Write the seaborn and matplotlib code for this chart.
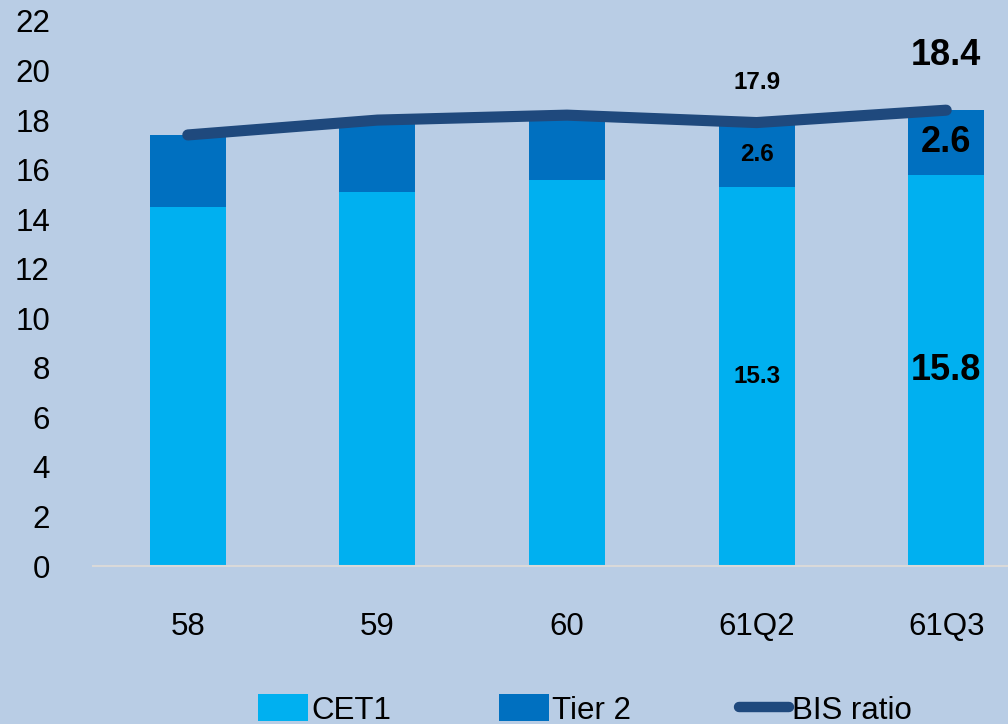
import numpy as np
import matplotlib
matplotlib.use("Agg")
import matplotlib.pyplot as plt
import seaborn as sns
from matplotlib.patches import Patch
from matplotlib.lines import Line2D

sns.set_style("white")
plt.rcParams["font.family"] = ["Liberation Sans", "DejaVu Sans"]
plt.rcParams["text.color"] = "black"

# ----------------------------------------------------------------------
# data
# ----------------------------------------------------------------------
periods = ["58", "59", "60", "61Q2", "61Q3"]
cet1 = [14.5, 15.1, 15.6, 15.3, 15.8]
tier2 = [2.9, 2.9, 2.6, 2.6, 2.6]
bis_ratio = [17.4, 18.0, 18.2, 17.9, 18.4]
y_ticks = list(range(0, 23, 2))

BG = "#B9CDE5"
C_CET1 = "#00B0F0"
C_TIER2 = "#0070C0"
C_BIS = "#1F497D"

totals = np.array(cet1) + np.array(tier2)
xpos = np.arange(len(periods))

fig = plt.figure(figsize=(10.08, 7.24), dpi=100, facecolor=BG)
ax = fig.add_axes([93 / 1008, 1 - 566 / 724, (1041 - 93) / 1008, (566 - 21) / 724])
ax.set_facecolor(BG)

# stacked bars: full height in tier 2 colour, CET1 drawn over it
sns.barplot(x=periods, y=totals, color=C_TIER2, saturation=1, width=0.4, ax=ax,
            zorder=2, edgecolor="none", linewidth=0)
sns.barplot(x=periods, y=cet1, color=C_CET1, saturation=1, width=0.4, ax=ax,
            zorder=3, edgecolor="none", linewidth=0)

# BIS ratio line
sns.lineplot(x=xpos, y=bis_ratio, color=C_BIS, linewidth=8, ax=ax, zorder=4,
             solid_capstyle="round", solid_joinstyle="round", sort=False)

ax.set_xlim(-0.5, 4.5)
ax.set_ylim(0, 22)
ax.set_yticks(y_ticks)
ax.set_xticks(xpos)
ax.set_xticklabels(periods)
ax.set_xlabel("")
ax.set_ylabel("")
ax.tick_params(axis="y", length=0, pad=31, labelsize=22.5, colors="black")
ax.tick_params(axis="x", length=0, pad=33, labelsize=22.5, colors="black")
for side in ["top", "right", "left"]:
    ax.spines[side].set_visible(False)
ax.spines["bottom"].set_color("#D9D9D9")
ax.spines["bottom"].set_linewidth(1.5)
ax.spines["bottom"].set_zorder(5)

# data labels on the last two periods (last one larger)
label_sizes = {3: 17.5, 4: 26}
for i, fs in label_sizes.items():
    ax.text(xpos[i], cet1[i] / 2, f"{cet1[i]:.1f}", ha="center", va="center",
            fontsize=fs, fontweight="bold", color="black", zorder=6)
    ax.text(xpos[i], cet1[i] + tier2[i] / 2, f"{tier2[i]:.1f}", ha="center", va="center",
            fontsize=fs, fontweight="bold", color="black", zorder=6)
    ax.annotate(f"{bis_ratio[i]:.1f}", (xpos[i], bis_ratio[i]),
                xytext=(0, fs * 1.2 + 8), textcoords="offset points",
                ha="center", va="center", fontsize=fs, fontweight="bold",
                color="black", zorder=6)

handles = [
    Patch(facecolor=C_CET1, edgecolor="none", label="CET1"),
    Patch(facecolor=C_TIER2, edgecolor="none", label="Tier 2"),
    Line2D([0], [0], color=C_BIS, linewidth=7.5, solid_capstyle="round", label="BIS ratio"),
]
fig.legend(handles=handles, loc="center", bbox_to_anchor=(585 / 1008, 1 - 710 / 724),
           ncol=3, frameon=False, fontsize=22.5, handlelength=1.6, handleheight=0.95,
           handletextpad=0.1, columnspacing=3.45, borderpad=0, borderaxespad=0)

fig.savefig("out.png", dpi=100, facecolor=BG)
